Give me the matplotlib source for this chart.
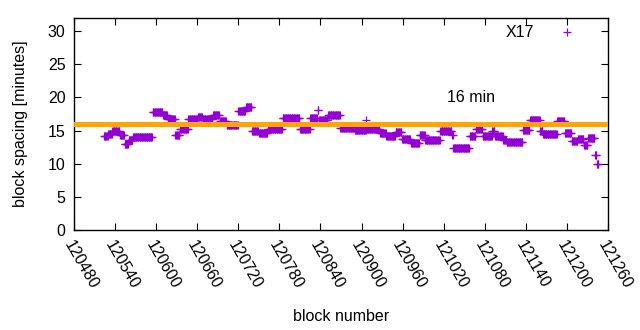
import numpy as np
import matplotlib
matplotlib.use("Agg")
import matplotlib.pyplot as plt
import matplotlib.transforms as mtransforms

# block spacing: (first block of run, spacing in minutes)
run_start = [120524, 120530, 120536, 120547, 120554, 120560, 120566, 120595,
             120610, 120617, 120628, 120635, 120647, 120661, 120668, 120683,
             120693, 120703, 120720, 120731, 120740, 120750, 120763, 120785,
             120810, 120825, 120836, 120838, 120851, 120869, 120890, 120907,
             120908, 120927, 120936, 120950, 120959, 120972, 120985, 120993,
             121015, 121032, 121034, 121058, 121067, 121077, 121091, 121095,
             121107, 121112, 121136, 121146, 121161, 121165, 121186, 121197,
             121207, 121216, 121225, 121231, 121241, 121244]
run_val = [14.2, 14.5, 14.9, 14.4, 13.0, 13.6, 14.0, 17.8,
           17.3, 16.7, 14.4, 15.2, 16.8, 17.0, 16.7, 17.3,
           16.5, 15.9, 18.0, 18.5, 14.9, 14.6, 15.3, 16.9,
           15.3, 16.9, 18.1, 16.6, 17.3, 15.4, 15.1, 16.6,
           15.3, 14.7, 14.2, 14.8, 13.7, 13.2, 14.3, 13.6,
           15.0, 14.3, 12.4, 14.2, 15.2, 14.2, 15.0, 14.2,
           13.6, 13.3, 15.1, 16.6, 15.0, 14.5, 16.5, 14.7,
           13.4, 13.7, 12.8, 13.9, 11.3, 10.0]
last_block = 121246

target = 16
xticks = list(range(120480, 121261, 60))
yticks = list(range(0, 31, 5))

run_len = np.diff(run_start + [last_block + 1])
blocks = np.arange(run_start[0], last_block + 1)
spacing = np.repeat(run_val, run_len)

plt.rcParams['font.family'] = ['Liberation Sans', 'DejaVu Sans']
fs = 11.5
fig = plt.figure(figsize=(6.4, 3.3), dpi=100)
ax = fig.add_axes([74 / 640, 100 / 330, 534 / 640, 212 / 330])

ax.plot(blocks, spacing, '+', color='#9400D3', markersize=5.5, markeredgewidth=0.9, label='X17')
ax.axhline(target, color='#FFA500', linewidth=3.6, zorder=3)
ax.text(121025, 20, '16 min', fontsize=fs, va='center', ha='left')

ax.set_xlim(120480, 121260)
ax.set_ylim(0, 32)
ax.set_xticks(xticks)
ax.set_yticks(yticks)
ax.set_xticklabels([str(t) for t in xticks], rotation=-60, ha='left', va='top',
                   rotation_mode='anchor')
shift = mtransforms.ScaledTranslation(4 / 72, 0, fig.dpi_scale_trans)
for lab in ax.get_xticklabels():
    lab.set_transform(lab.get_transform() + shift)
ax.tick_params(direction='in', length=5, top=True, right=True, labelsize=fs, pad=6)
for s in ax.spines.values():
    s.set_linewidth(1)

ax.set_xlabel('block number', fontsize=fs, labelpad=12)
ax.set_ylabel('block spacing [minutes]', fontsize=fs, labelpad=14)

ax.legend(loc='upper right', frameon=False, markerfirst=False, fontsize=fs,
          handlelength=2.5, borderpad=0, borderaxespad=0,
          bbox_to_anchor=(0.961, 0.965))

fig.savefig('out.png', dpi=100)
